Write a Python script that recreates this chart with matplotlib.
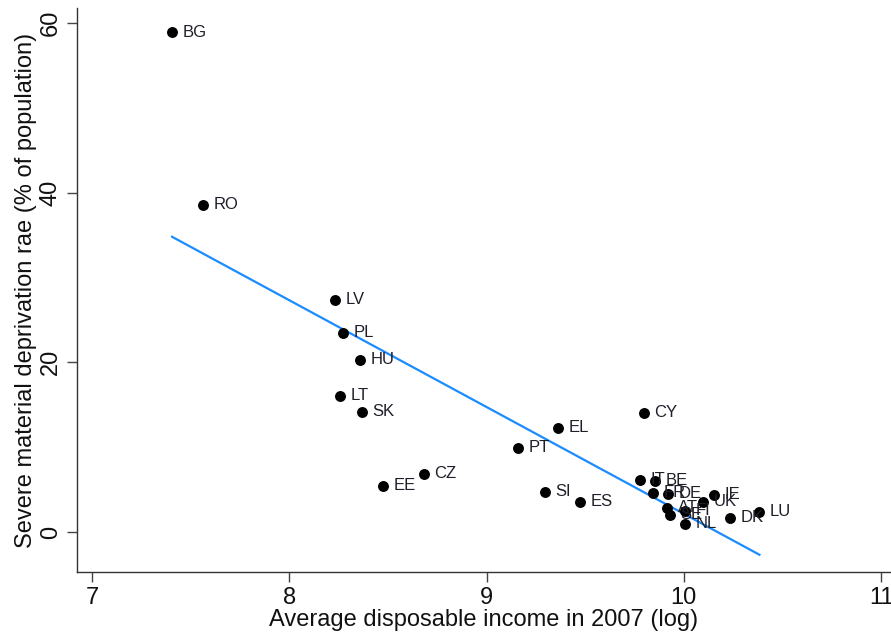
import matplotlib
matplotlib.use("Agg")
import matplotlib.pyplot as plt
from matplotlib import font_manager
import numpy as np

countries = ["BG", "RO", "LV", "PL", "HU", "LT", "SK", "EE", "CZ", "PT", "EL",
             "SI", "ES", "CY", "IT", "BE", "FR", "DE", "AT", "SE", "FI", "NL",
             "UK", "IE", "DK", "LU"]
log_income = [7.406, 7.563, 8.232, 8.272, 8.359, 8.257, 8.369, 8.475, 8.683,
              9.160, 9.363, 9.297, 9.474, 9.798, 9.778, 9.854, 9.844, 9.920,
              9.915, 9.930, 10.008, 10.008, 10.099, 10.155, 10.236, 10.383]
deprivation = [58.94, 38.55, 27.35, 23.46, 20.28, 16.03, 14.15, 5.42, 6.84,
               9.90, 12.26, 4.72, 3.54, 14.03, 6.13, 6.01, 4.60, 4.48, 2.83,
               2.00, 2.48, 0.94, 3.54, 4.36, 1.65, 2.36]
x_ticks = [7, 8, 9, 10, 11]
y_ticks = [0, 20, 40, 60]

installed = {f.name for f in font_manager.fontManager.ttflist}
axis_font = "Liberation Sans Narrow" if "Liberation Sans Narrow" in installed else "Liberation Sans"
plt.rcParams["font.family"] = ["Liberation Sans", "DejaVu Sans"]

fig = plt.figure(figsize=(8.91, 6.36), dpi=100)
ax = fig.add_axes([77 / 891, 1 - 572 / 636, 1 - 77 / 891, (572 - 8) / 636])

x = np.array(log_income)
y = np.array(deprivation)

# linear fit over the observed income range
slope, intercept = np.polyfit(x, y, 1)
xs = np.array([x.min(), x.max()])
ax.plot(xs, intercept + slope * xs, color="#1a8cff", lw=1.6, zorder=2)

ax.scatter(x, y, s=62, color="black", zorder=3, linewidths=0)
for name, xi, yi in zip(countries, x, y):
    ax.annotate(name, (xi, yi), xytext=(7.5, 0), textcoords="offset points",
                va="center", ha="left", fontsize=12, color="#1f1f2a", zorder=4)

ax.set_xlim(6.924, 11.05)
ax.set_ylim(-4.72, 61.77)
ax.set_xticks(x_ticks)
ax.set_yticks(y_ticks)
ax.set_xticklabels([str(t) for t in x_ticks], fontname=axis_font, fontsize=17)
ax.set_yticklabels([str(t) for t in y_ticks], fontname=axis_font, fontsize=17,
                   rotation=90, va="center")
ax.tick_params(axis="both", direction="out", length=7, width=1, color="#444444",
               labelcolor="#111111")
ax.tick_params(axis="x", pad=4)
ax.tick_params(axis="y", pad=4)

for side in ("top", "right"):
    ax.spines[side].set_visible(False)
for side in ("left", "bottom"):
    ax.spines[side].set_color("#333333")
    ax.spines[side].set_linewidth(1.0)

ax.set_xlabel("Average disposable income in 2007 (log)", fontname=axis_font,
              fontsize=17, color="#111111", labelpad=0)
ax.set_ylabel("Severe material deprivation rae (% of population)",
              fontname=axis_font, fontsize=17, color="#111111", labelpad=2)

fig.savefig("out.png", dpi=100)
